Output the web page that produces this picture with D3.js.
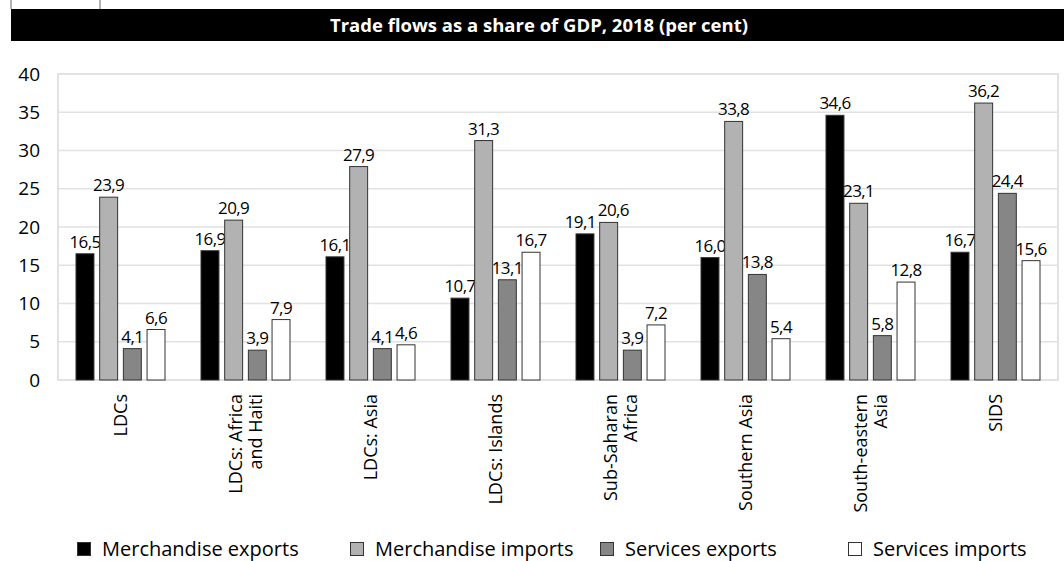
<!DOCTYPE html>
<html><head><meta charset="utf-8">
<script src="https://cdn.jsdelivr.net/npm/d3@7"></script>
<style>body{margin:0;background:#fff}svg{display:block}text{font-family:"Open Sans",sans-serif}</style>
</head><body><svg id="c" width="1064" height="561"></svg>
<script>
const categories = ["LDCs", "LDCs: Africa|and Haiti", "LDCs: Asia", "LDCs: Islands", "Sub-Saharan|Africa", "Southern Asia", "South-eastern|Asia", "SIDS"];
const seriesNames = ["Merchandise exports", "Merchandise imports", "Services exports", "Services imports"];
const merchExports = [16.5, 16.9, 16.1, 10.7, 19.1, 16.0, 34.6, 16.7];
const merchImports = [23.9, 20.9, 27.9, 31.3, 20.6, 33.8, 23.1, 36.2];
const servExports = [4.1, 3.9, 4.1, 13.1, 3.9, 13.8, 5.8, 24.4];
const servImports = [6.6, 7.9, 4.6, 16.7, 7.2, 5.4, 12.8, 15.6];
const yTicks = [0, 5, 10, 15, 20, 25, 30, 35, 40];
const title = "Trade flows as a share of GDP, 2018 (per cent)";

const series = [merchExports, merchImports, servExports, servImports];
const colors = ["#000000", "#b2b2b2", "#868686", "#ffffff"];
const svg = d3.select("#c");
const m = {l: 58, r: 1058, t: 74, b: 380};

// top-left tab
svg.append("path").attr("d", "M11,0 V9 M100,0 V9").attr("stroke", "#666").attr("fill", "none");
// title bar
svg.append("rect").attr("x", 11).attr("y", 9).attr("width", 1053).attr("height", 32).attr("fill", "#000");
svg.append("text").attr("x", 539).attr("y", 32).attr("text-anchor", "middle").attr("fill", "#fff")
  .attr("font-weight", "bold").attr("font-size", 18.5).text(title);

const y = d3.scaleLinear().domain([0, 40]).range([m.b, m.t]);
const x0 = d3.scaleBand().domain(categories).range([m.l, m.r]).paddingInner(0.28).paddingOuter(0.14);
const x1 = d3.scaleBand().domain(d3.range(4)).range([0, x0.bandwidth()]).paddingInner(0.2);

// grid
svg.append("g").selectAll("line").data(yTicks).join("line")
  .attr("x1", m.l).attr("x2", m.r).attr("y1", d => y(d)).attr("y2", d => y(d))
  .attr("stroke", "#e2e2e2").attr("stroke-width", 1.5);
svg.append("rect").attr("x", m.l).attr("y", m.t).attr("width", m.r - m.l).attr("height", m.b - m.t)
  .attr("fill", "none").attr("stroke", "#e2e2e2").attr("stroke-width", 2);

// y axis
const yAxis = d3.axisLeft(y).tickValues(yTicks).tickSize(0).tickPadding(18);
const ga = svg.append("g").attr("transform", `translate(${m.l},0)`).call(yAxis);
ga.select(".domain").remove();
ga.selectAll("text").attr("font-size", 19).attr("fill", "#000").style("font-family", '"Open Sans",sans-serif');

// bars
const fmt = v => d3.format(".1f")(v).replace(".", ",");
categories.forEach((c, ci) => {
  const g = svg.append("g").attr("transform", `translate(${x0(c)},0)`);
  const labels = [];
  series.forEach((s, si) => {
    const v = s[ci];
    g.append("rect").attr("x", x1(si) + 0.5).attr("y", y(v)).attr("width", x1.bandwidth() - 1).attr("height", y(0) - y(v))
      .attr("fill", colors[si]).attr("stroke", "#333").attr("stroke-width", 1);
    labels.push(g.append("text").attr("x", x1(si) + x1.bandwidth() / 2).attr("y", y(v) - 6).attr("text-anchor", "middle")
      .attr("font-size", 17).attr("letter-spacing", -0.6).attr("fill", "#000").text(fmt(v)));
  });
  // nudge adjacent labels apart if their boxes collide
  for (let i = 0; i < labels.length - 1; i++) {
    const a = labels[i].node().getBBox(), b = labels[i + 1].node().getBBox();
    const ox = a.x + a.width - b.x, oy = Math.min(a.y + a.height, b.y + b.height) - Math.max(a.y, b.y);
    if (ox > -1 && oy > 0) {
      const d = (ox + 2) / 2;
      labels[i].attr("x", +labels[i].attr("x") - d);
      labels[i + 1].attr("x", +labels[i + 1].attr("x") + d);
    }
  }
  // category label
  const lines = c.split("|");
  const cx = x0(c) + x0.bandwidth() / 2;
  const t = svg.append("text").attr("transform", `translate(${cx},${m.b + 14}) rotate(-90)`)
    .attr("text-anchor", "end").attr("font-size", 18).attr("fill", "#000");
  lines.forEach((ln, i) => {
    t.append("tspan").attr("x", 0).attr("y", (i - (lines.length - 1) / 2) * 20 + 6).text(ln);
  });
});

// legend
const legX = [77, 350, 600, 848];
seriesNames.forEach((n, i) => {
  svg.append("rect").attr("x", legX[i] + 0.5).attr("y", 542.5).attr("width", 13).attr("height", 13)
    .attr("fill", colors[i]).attr("stroke", "#333");
  svg.append("text").attr("x", legX[i] + 25).attr("y", 556).attr("font-size", 20).attr("fill", "#000").text(n);
});
</script></body></html>
